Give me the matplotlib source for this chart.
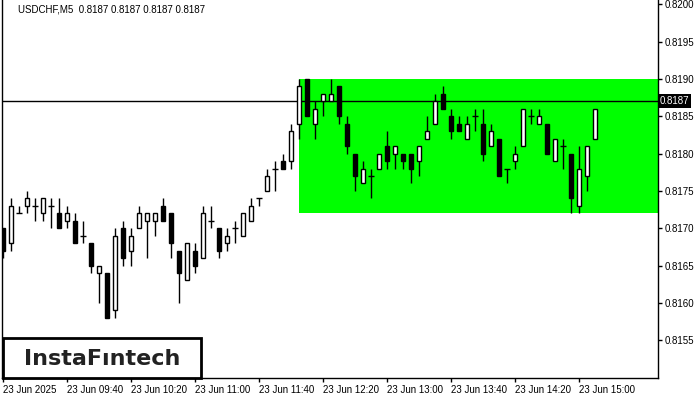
import matplotlib
matplotlib.use("Agg")
import matplotlib.pyplot as plt
from matplotlib.patches import Rectangle

# USDCHF M5 candles, 23 Jun 2025 from 09:00
opens = [0.8170, 0.8168, 0.8172, 0.8173, 0.8173, 0.8172, 0.8173, 0.8172, 0.8171, 0.8171,
         0.8169, 0.8168, 0.8164, 0.8164, 0.8159, 0.8170, 0.8167, 0.8170, 0.8171, 0.8171,
         0.8173, 0.8172, 0.8167, 0.8163, 0.8167, 0.8166, 0.8171, 0.8170, 0.8168, 0.8170,
         0.8169, 0.8171, 0.8174, 0.8175, 0.8178, 0.8179, 0.8179, 0.8184, 0.8190, 0.8184,
         0.8187, 0.8187, 0.8189, 0.8184, 0.8180, 0.8176, 0.8177, 0.8178, 0.8181, 0.8180,
         0.8180, 0.8180, 0.8179, 0.8182, 0.8184, 0.8188, 0.8185, 0.8184, 0.8182, 0.8185,
         0.8184, 0.8181, 0.8182, 0.8178, 0.8179, 0.8181, 0.8185, 0.8184, 0.8184, 0.8179,
         0.8181, 0.8180, 0.8173, 0.8177, 0.8182]
closes = [0.8167, 0.8173, 0.8172, 0.8174, 0.8173, 0.8174, 0.8173, 0.8170, 0.8172, 0.8168,
          0.8169, 0.8165, 0.8165, 0.8158, 0.8169, 0.8166, 0.8169, 0.8172, 0.8172, 0.8172,
          0.8171, 0.8168, 0.8164, 0.8168, 0.8165, 0.8172, 0.8171, 0.8167, 0.8169, 0.8170,
          0.8172, 0.8173, 0.8174, 0.8177, 0.8178, 0.8178, 0.8183, 0.8189, 0.8185, 0.8186,
          0.8188, 0.8188, 0.8185, 0.8181, 0.8177, 0.8178, 0.8177, 0.8180, 0.8179, 0.8181,
          0.8179, 0.8178, 0.8181, 0.8183, 0.8187, 0.8186, 0.8183, 0.8183, 0.8184, 0.8185,
          0.8180, 0.8183, 0.8177, 0.8178, 0.8180, 0.8186, 0.8185, 0.8185, 0.8180, 0.8182,
          0.8181, 0.8174, 0.8178, 0.8181, 0.8186]
highs = [0.8170, 0.8174, 0.8173, 0.8175, 0.8174, 0.8174, 0.8174, 0.8174, 0.8173, 0.8172,
         0.8171, 0.8168, 0.8165, 0.8164, 0.8170, 0.8171, 0.8170, 0.8173, 0.8172, 0.8172,
         0.8174, 0.8172, 0.8167, 0.8168, 0.8168, 0.8173, 0.8173, 0.8170, 0.8170, 0.8171,
         0.8172, 0.8174, 0.8174, 0.8178, 0.8179, 0.8180, 0.8184, 0.8190, 0.8190, 0.8187,
         0.8188, 0.8190, 0.8189, 0.8185, 0.8180, 0.8179, 0.8178, 0.8180, 0.8183, 0.8181,
         0.8180, 0.8180, 0.8181, 0.8185, 0.8188, 0.8189, 0.8186, 0.8185, 0.8185, 0.8186,
         0.8186, 0.8184, 0.8182, 0.8178, 0.8181, 0.8186, 0.8186, 0.8186, 0.8184, 0.8182,
         0.8182, 0.8180, 0.8181, 0.8181, 0.8186]
lows = [0.8166, 0.8167, 0.8172, 0.8172, 0.8171, 0.8171, 0.8170, 0.8170, 0.8170, 0.8168,
        0.8168, 0.8164, 0.8160, 0.8158, 0.8158, 0.8165, 0.8165, 0.8170, 0.8166, 0.8169,
        0.8171, 0.8166, 0.8160, 0.8163, 0.8164, 0.8166, 0.8170, 0.8166, 0.8167, 0.8168,
        0.8169, 0.8171, 0.8173, 0.8175, 0.8175, 0.8178, 0.8178, 0.8182, 0.8185, 0.8182,
        0.8185, 0.8187, 0.8184, 0.8180, 0.8175, 0.8176, 0.8174, 0.8178, 0.8178, 0.8178,
        0.8178, 0.8176, 0.8177, 0.8182, 0.8184, 0.8186, 0.8182, 0.8183, 0.8182, 0.8183,
        0.8179, 0.8181, 0.8177, 0.8176, 0.8178, 0.8181, 0.8184, 0.8184, 0.8180, 0.8179,
        0.8178, 0.8172, 0.8172, 0.8175, 0.8182]

time_labels = ["23 Jun 2025", "23 Jun 09:40", "23 Jun 10:20", "23 Jun 11:00", "23 Jun 11:40",
               "23 Jun 12:20", "23 Jun 13:00", "23 Jun 13:40", "23 Jun 14:20", "23 Jun 15:00"]
price_ticks = [0.8155, 0.8160, 0.8165, 0.8170, 0.8175, 0.8180, 0.8185, 0.8190, 0.8195, 0.8200]

zone_start = 37
zone_top = 0.8190
zone_bottom = 0.8172
last_price = 0.8187
title = "USDCHF,M5  0.8187 0.8187 0.8187 0.8187"

FONT = "Liberation Sans"

fig = plt.figure(figsize=(7, 4), dpi=100)
ax = fig.add_axes([2 / 700, 22 / 400, 656 / 700, 378 / 400])
ax.set_xlim(-0.125, 81.875)
ax.set_ylim(0.814994, 0.820057)

# pattern zone
ax.add_patch(Rectangle((zone_start, zone_bottom), 81.875 - zone_start, zone_top - zone_bottom,
                       facecolor="#00ff00", edgecolor="none", zorder=1))
ax.axhline(last_price, color="black", lw=1, zorder=2)

bw = 0.5
for i, (o, h, l, c) in enumerate(zip(opens, highs, lows, closes)):
    ax.vlines(i, l, h, color="black", lw=1, zorder=3)
    if o == c:
        ax.hlines(o, i - 0.35, i + 0.35, color="black", lw=1, zorder=4)
    else:
        fc = "white" if c > o else "black"
        ax.add_patch(Rectangle((i - bw / 2, min(o, c)), bw, abs(c - o),
                               facecolor=fc, edgecolor="black", lw=1, zorder=4))

ax.yaxis.tick_right()
ax.set_yticks(price_ticks)
ax.set_yticklabels([f"{p:.4f}" for p in price_ticks], fontsize=7, family=FONT)
ax.set_xticks(range(0, 80, 8))
ax.set_xticklabels(time_labels, fontsize=7, family=FONT, ha="left")
ax.tick_params(length=3, width=1, pad=2)
ax.spines["top"].set_visible(False)
for s in ["left", "right", "bottom"]:
    ax.spines[s].set_linewidth(1)

# current price label
ax.text(1.003, last_price, f"{last_price:.4f}", transform=ax.get_yaxis_transform(),
        fontsize=7, family=FONT, color="white", va="center", ha="left",
        bbox=dict(boxstyle="square,pad=0.2", facecolor="black", edgecolor="none"))

fig.text(18 / 700, 1 - 10 / 400, title, fontsize=7, family=FONT, va="center", ha="left")

# logo
fig.patches.append(Rectangle((3 / 700, 22 / 400), 198 / 700, 40 / 400, transform=fig.transFigure,
                             facecolor="white", edgecolor="black", lw=2, zorder=5))
fig.text(102 / 700, 1 - 359 / 400, "InstaFıntech", fontsize=16, family="DejaVu Sans",
         fontweight="bold", color="#222222", ha="center", va="center", zorder=6)

fig.savefig("out.png", dpi=100)
